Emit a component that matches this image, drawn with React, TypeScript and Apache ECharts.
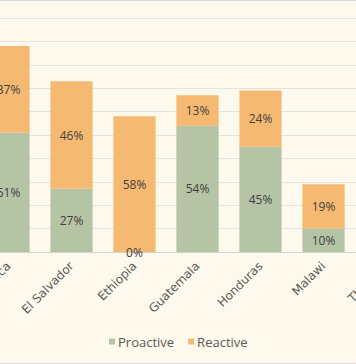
import React, { useEffect, useRef } from "react";
import * as echarts from "echarts";

const categories = ["Costa Rica", "El Salvador", "Ethiopia", "Guatemala", "Honduras", "Malawi", "Thailand"];
const proactive = [51, 27, 0, 54, 45, 10, null];
const reactive = [37, 46, 58, 13, 24, 19, null];
const seriesNames = ["Proactive", "Reactive"];

const FONT = "'Open Sans', 'DejaVu Sans', sans-serif";
const AXIS_FONT = "'DejaVu Sans', sans-serif";

export default function App() {
  const ref = useRef<HTMLDivElement>(null);
  useEffect(() => {
    if (!ref.current) return;
    const chart = echarts.init(ref.current, undefined, { renderer: "svg" });
    chart.setOption({
      animation: false,
      backgroundColor: "transparent",
      textStyle: { fontFamily: FONT },
      color: ["#B6C4A6", "#F6B972"],
      grid: { left: 37, top: 18, width: 441, height: 234, containLabel: false },
      legend: {
        left: 164,
        top: 330,
        itemWidth: 6,
        itemHeight: 6,
        itemGap: 14,
        icon: "rect",
        textStyle: { color: "#595959", fontSize: 13, fontFamily: FONT, padding: [0, 0, 0, -2] },
        data: seriesNames,
      },
      xAxis: {
        type: "category",
        data: categories,
        axisLine: { lineStyle: { color: "#D3D1CB", width: 1 } },
        axisTick: { show: false },
        axisLabel: { rotate: 45, color: "#595959", fontSize: 12, fontFamily: AXIS_FONT, margin: 12, interval: 0 },
      },
      yAxis: {
        type: "value",
        min: 0,
        max: 100,
        interval: 10,
        axisLine: { show: false },
        axisTick: { show: false },
        axisLabel: { show: false },
        splitLine: { lineStyle: { color: "#E6E4DE", width: 1 } },
      },
      series: [
        {
          name: seriesNames[0],
          type: "bar",
          stack: "total",
          data: proactive,
          barCategoryGap: "33%",
          label: { show: true, position: "inside", formatter: "{c}%", color: "#404040", fontSize: 12, fontFamily: FONT },
        },
        {
          name: seriesNames[1],
          type: "bar",
          stack: "total",
          data: reactive,
          barCategoryGap: "33%",
          label: { show: true, position: "inside", formatter: "{c}%", color: "#404040", fontSize: 12, fontFamily: FONT },
        },
      ],
    });
    return () => chart.dispose();
  }, []);
  return (
    <div
      style={{
        position: "fixed",
        left: 0,
        top: 0,
        width: 356,
        height: 364,
        overflow: "hidden",
        background: "#FDF9EC",
        borderTop: "1px solid #D9D9D9",
        borderBottom: "1px solid #D9D9D9",
        boxSizing: "border-box",
      }}
    >
      <div ref={ref} style={{ position: "absolute", left: -60, top: -1, width: 560, height: 364 }} />
    </div>
  );
}
